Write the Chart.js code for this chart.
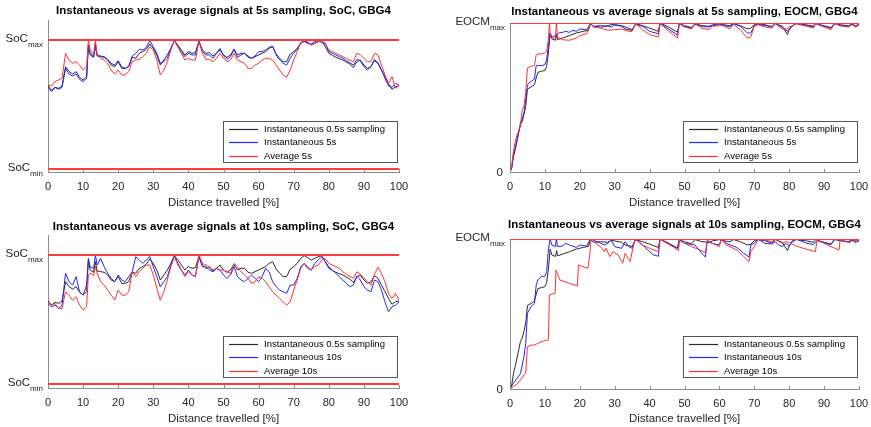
<!DOCTYPE html>
<html>
<head>
<meta charset="utf-8">
<script src="https://cdn.jsdelivr.net/npm/chart.js@4.4.1/dist/chart.umd.min.js"></script>
<style>
  body { margin: 0; background: #fff; width: 871px; height: 427px; overflow: hidden; position: relative; }
  .panel { position: absolute; }
</style>
</head>
<body>
<div class="panel" style="left:0;top:0"><canvas id="soc5" width="435" height="212"></canvas></div>
<div class="panel" style="left:435px;top:0"><canvas id="eocm5" width="446" height="212"></canvas></div>
<div class="panel" style="left:0;top:212px"><canvas id="soc10" width="435" height="215"></canvas></div>
<div class="panel" style="left:435px;top:212px"><canvas id="eocm10" width="446" height="215"></canvas></div>
<script>
// ── Data (distance travelled in %, signals in % of their window) ──
const SOC_X = [0,1,2,3,4,5,6,7,8,9,10,11,11.5,12,13,13.5,14,15,16,17,18,19,20,21,22,23,24,25,26,27,28,29,30,31,32,33,34,35,36,37,38,39,40,41,42,43,44,45,46,47,48,49,50,51,52,53,54,55,56,57,58,59,60,61,62,63,64,65,66,67,68,69,70,71,72,73,74,75,76,77,78,79,80,81,82,83,84,85,86,87,88,89,90,91,92,93,94,95,96,97,98,99,100];

// instantaneous 0.5s sampling (same signal in both SoC plots)
const SOC_BLACK = [64.3,61.2,63.3,62.5,64.3,79.3,75.5,73.6,75.5,71.1,69.0,71.6, 96.1,88.4,86.6,94.8,
  87.6,87.1,86.6,84.5,80.6,79.3,83.2,78.0,78.0,79.3, 86.6,85.8,89.7,91.0,92.8,96.9,93.5,88.4,80.6,84.5,
  88.4,93.5,99.5,96.1,92.2,88.4,91.0,89.7,90.2,98.7, 92.2,89.7,90.2,87.6,89.7,92.2,88.4,86.6,88.4,92.8,
  88.4,89.7,89.7,86.6,85.8,87.1,88.4,89.7,91.0,93.5, 94.8,89.1,85.8,83.2,83.2,89.1,91.0,93.5,97.4,99.5,
  97.9,96.1,97.4,98.7,99.5,94.8,89.7,88.1,86.6,85.5, 84.5,82.9,81.4,78.6,83.2,84.5,80.6,78.0,79.3,84.0,
  81.9,76.7,71.6,66.4,61.8,63.8,64.3];
const SOC5_BLUE = [63.3,60.0,63.3,61.8,63.3,78.0,73.6,72.1,73.6,69.5,67.7,70.3, 94.8,89.7,87.1,97.4,
  88.4,87.6,87.1,85.0,81.9,80.6,84.0,79.3,78.0,79.8, 87.6,89.7,92.8,92.2,94.3,99.5,94.8,89.7,81.9,83.2,
  85.8,93.5,99.5,94.8,91.0,87.1,89.7,88.4,88.4,99.5, 91.0,88.4,88.4,85.8,89.7,93.5,87.6,85.0,87.1,92.8,
  86.6,88.4,89.7,87.6,85.8,87.6,91.0,91.0,92.2,94.3, 95.3,88.4,84.5,81.9,80.6,85.8,89.7,92.8,97.9,98.7,
  97.4,96.9,98.7,99.5,97.9,97.4,91.0,89.7,88.4,87.1, 85.8,84.0,82.4,80.6,85.0,84.0,79.3,76.7,79.3,85.0,
  82.4,76.7,70.3,64.3,63.3,66.4,65.1];
const SOC5_RED = [65.1,64.3,67.7,69.0,70.3,89.7,84.5,81.9,83.2,80.6,76.7,79.3, 100,92.2,88.4,100,
  88.4,85.8,84.5,81.9,76.7,73.6,76.7,72.9,72.9,75.5, 83.2,84.5,85.0,87.1,89.7,94.8,92.2,84.5,72.9,76.7,
  83.2,92.2,100,94.8,89.7,84.5,85.8,84.5,84.5,98.7, 89.7,85.0,85.0,83.2,85.8,89.7,85.8,83.2,84.5,89.7,
  84.5,83.2,81.9,78.0,78.0,80.6,81.9,84.5,85.8,85.8, 84.5,80.6,76.7,72.9,71.1,76.7,84.5,91.0,97.9,100,
  98.7,96.1,97.4,98.7,99.5,97.4,92.2,91.0,89.7,88.4, 87.1,85.8,84.5,83.2,89.7,88.4,85.8,83.2,83.2,89.7,
  88.4,80.6,72.9,66.4,71.6,62.5,65.1];
const SOC10_BLUE = [62.4,59.8,61.1,58.5,61.1,85.8,79.3,76.7,83.2,71.5,68.9,76.7, 97.4,90.9,89.6,100,
  92.2,97.4,90.9,85.8,81.9,79.3,84.5,80.6,79.3,83.2, 87.0,98.7,96.1,93.5,96.1,98.7,90.9,83.2,75.4,79.3,
  83.2,92.2,99.2,93.5,88.3,84.5,88.3,84.5,83.2,98.7, 90.9,90.9,88.3,87.0,89.6,88.3,84.5,81.9,84.5,90.9,
  83.2,80.6,79.3,81.9,84.5,81.9,79.3,83.2,89.6,87.0, 79.3,75.4,72.8,71.5,70.2,76.7,76.7,81.9,90.9,93.5,
  89.6,88.3,93.5,96.1,98.7,94.8,90.9,88.3,85.8,83.2, 80.6,78.0,75.4,76.7,83.7,80.6,75.4,72.8,71.5,80.6,
  79.3,72.8,63.7,56.0,59.8,61.1,63.7];
const SOC10_RED = [65.0,61.1,62.4,58.5,58.5,71.5,68.9,65.0,67.6,61.1,57.3,59.8, 84.5,86.0,84.0,91.0,
  86.0,79.3,76.7,72.8,68.9,65.0,72.8,68.9,68.9,71.5, 87.0,83.2,87.0,89.6,92.2,92.2,84.5,74.1,65.0,71.5,
  80.6,90.9,98.7,92.2,88.3,83.2,87.0,84.5,83.2,100, 93.5,92.2,90.9,88.3,89.6,88.3,88.3,87.0,85.8,93.5,
  90.9,87.0,84.5,81.9,78.0,79.3,83.2,81.9,79.3,75.4, 71.5,68.9,66.3,63.7,61.1,63.7,72.8,80.6,89.6,93.5,
  90.9,88.3,90.9,92.2,96.1,97.4,93.5,92.2,90.9,89.6, 87.0,85.0,83.5,82.0,87.0,85.0,82.0,79.5,76.5,85.0,
  90.5,85.8,79.3,70.2,66.3,70.2,65.0];

// EOCM: each series keeps its own distance points (sawtooth jumps)
const EOCM_BLACK_X = [0,0.5,1,1.5,2,2.5,3,3.5,4,4.5,5,6,7,7.5,8,9,10,10.5,11,11.5,12,13,13.4,13.6,15,17,19,21,22.5,23,
  24,26,28,29,30,32,33,35,36,38,40,42.5,43,45,48,48.5,50,52,53,55,57,58,60,61,63,64,66,68,69,70,
  71,73,75,76,78,79.5,80,81,82,85,87,87.5,90,92,93,95,97,98,99,100];
const EOCM_BLACK = [0,2.7,10.5,15.0,20.6,26.2,31.8,34.0,38.5,44.1,55.7,57.0,58.6,63.1,66.9,67.6,68.2,70.9,79.9,93.3,
  89.3,88.4,92.2,88.8,89.9,91.5,93.3,94.4,95.1,99.6, 97.8,98.2,97.8,99.1,98.7,97.8,96.0,95.1,99.6,98.2,
  96.6,94.4,100,97.8,93.9,99.6,98.2,96.9,99.6,98.2, 97.8,98.7,99.6,98.9,98.2,99.6,98.2,96.0,96.6,98.9,
  99.6,98.9,97.3,99.6,97.8,92.2,95.5,98.2,99.6,98.7, 97.8,99.6,97.8,96.6,99.6,98.7,98.2,99.1,98.2,98.9];

const EOCM5_BLUE_X = [0,0.5,1,1.5,2,2.5,3,3.5,4,4.5,5,6,7,7.5,8,9,10,10.5,11,11.5,12,13,14,15,16,17,18,19,20,22,
  23,24,25,26,28,29,30,32,34,35,36,38,40,42.5,43,45,48,48.5,50,52,53,55,57,58,60,61,63,64,66,68,
  69,70,71,73,75,76,78,79.5,80,81,82,85,87,87.5,90,92,93,95,97,98,99,100];
const EOCM5_BLUE = [0,2.7,12.8,16.1,21.7,27.3,32.9,35.6,39.6,48.5,58.6,60.8,62.4,71.4,71.4,71.4,72.0,75.4,84.3,93.3,
  90.6,91.5,93.3,93.7,94.4,93.7,95.1,94.4,96.0,95.5, 99.6,97.3,97.8,97.1,98.2,97.3,98.9,98.2,96.6,95.5,
  99.1,97.8,94.4,92.8,99.6,96.6,91.9,99.6,97.8,96.6, 99.1,97.8,97.3,98.2,98.9,98.7,97.3,99.6,97.8,93.3,
  93.3,98.2,99.1,98.2,97.8,99.6,97.3,94.4,96.0,98.2, 99.6,98.2,97.3,99.6,98.2,96.9,99.6,98.2,97.8,99.6,97.8,99.1];

const EOCM5_RED_X = [0,0.5,1,1.5,2,2.5,3,3.5,4,4.5,5,6,7,7.5,8,9,10,10.5,11,11.3,11.6,12,13,13.3,13.6,15,17,19,20,22,
  23,24,26,28,30,32,34,35,36,38,40,42.5,43,45,48,48.5,50,52,53,55,57,58,60,61,63,64,66,68,69,70,
  71,73,75,76,78,79.5,80,81,82,85,87,87.5,90,92,93,95,97,98,99,100];
const EOCM5_RED = [0,4.9,13.9,20.6,25.1,27.3,31.8,41.8,44.1,53.0,69.8,70.9,71.4,78.7,79.2,79.2,79.9,81.0,88.8,100,
  90.6,89.9,89.9,100,90.6,88.8,88.4,89.9,91.5,92.8, 99.6,97.3,96.6,95.1,95.5,96.0,94.4,94.4,99.6,95.5,
  92.2,90.6,99.6,95.5,89.9,99.6,97.3,96.0,99.6,96.6, 95.5,97.8,98.2,98.2,96.0,98.9,95.5,89.9,90.6,97.8,
  98.9,97.3,96.6,99.6,96.0,96.0,97.3,98.2,99.6,97.8, 96.6,99.6,97.3,95.5,99.6,97.8,97.3,98.9,97.3,98.7];

const EOCM10_BLUE_X = [0,1,2,3,4,4.5,5,6,7,7.5,8,9,10,10.5,11,11.5,12,13,13.3,13.6,15,16,17,19,20,22,23,25,27,28,
  29,30,32,33,34,35,36,38,40,41,42.5,43,45,47,48,48.5,50,53,55,56,56.5,58,60,60.5,62,65,67,68.5,69,70,
  71,73,75,76,77,78,79,80,81,82,85,87,88,90,92,93,95,97,98,99,100];
const EOCM10_BLUE = [0,4,7,10.4,21.6,30.4,50.4,54.9,57.1,69.3,72.7,75.1,75.1,78.2,92.7,100,96.0,94.9,100,94.9,
  95.3,97.1,96.0,94.4,96.0,95.3,100,98.2,96.0,97.1, 99.3,94.9,93.8,98.2,94.9,93.8,100,96.0,91.6,89.5,
  88.5,100,97.1,94.9,93.8,99.3,97.1,96.0,90.4,88.0, 98.2,97.1,96.0,100,97.1,94.4,90.4,88.0,96.0,97.1,
  100,97.1,96.7,98.2,96.0,94.9,97.1,95.3,99.3,100, 97.1,96.4,98.9,97.6,96.2,100,98.9,98.2,99.8,97.6,99.3];

const EOCM10_RED_X = [0,1,2,3,4,4.5,5,6,7,8,9,10,11,11.3,12.9,13.2,14.3,17,19.3,19.6,22.3,22.8,23.2,24,25,26,27,27.5,28.6,29.5,
  31,32.3,33,34.4,35.8,38,40,42.5,43,45,47,48.3,48.6,50,52,54,56,56.5,58,60,60.5,62,65,67,68.5,69,70,71,72,75,
  76,78,79,80,82,85,87.5,88,90,92,94.3,94.6,96,97.5,98,100];
const EOCM10_RED = [0,1.6,3.3,6.0,9.3,10.4,28.2,29.3,29.3,30.4,31.6,32.2,32.7,62.7,63.8,79.3,72.7,70.4,68.7,82.7,
  80.4,88.2,99.3,100,96.0,94.9,91.6,93.8,88.2,91.6, 89.3,83.8,90.4,84.9,100,96.0,93.8,91.6,100,97.1,
  94.4,92.2,100,97.1,94.9,93.1,90.9,99.3,97.1,94.9, 99.8,96.0,92.7,88.2,84.9,91.6,94.9,99.3,100,98.2,
  99.8,97.1,98.2,97.6,95.3,93.1,91.6,99.3,97.1,94.9, 92.7,99.8,98.2,97.6,99.8,98.2];

// limits and y tick labels
const SOC_LIMITS = [0, 100];
const SOC_TICK_LABELS = [['SoC', 'min'], ['SoC', 'max']];
const EOCM_LIMITS = [100];
const EOCM_TICKS = [0, 100];
const EOCM_TICK_LABELS = [['0', ''], ['EOCM', 'max']];
const X_TITLE = 'Distance travelled [%]';

// ── Styling ───────────────────────────────────────────────────
const FONT = '"Liberation Sans", Arial, Helvetica, sans-serif';
const C_BLACK = '#2a2a2a';
const C_BLUE  = '#2424ff';
const C_RED   = '#ff3030';
const C_LIMIT = '#ff3a3a';
const C_AXIS  = '#8c8c8c';

Chart.defaults.font.family = FONT;
Chart.defaults.color = '#262626';

const pts = (xs, ys) => xs.map((x, i) => ({ x, y: ys[i] }));

// MATLAB-ish decorations: inward ticks, subscript y labels, title, boxed legend
const matlabLook = {
    id: 'matlabLook',
    afterDraw(chart, args, o) {
        const { ctx, chartArea: ca, scales: { x, y } } = chart;
        ctx.save();

        ctx.strokeStyle = C_AXIS; ctx.lineWidth = 1;
        x.ticks.forEach(t => {
            const px = Math.round(x.getPixelForValue(t.value)) + 0.5;
            ctx.beginPath(); ctx.moveTo(px, ca.bottom); ctx.lineTo(px, ca.bottom - 3); ctx.stroke();
        });

        ctx.textBaseline = 'middle'; ctx.textAlign = 'left'; ctx.fillStyle = '#262626';
        o.yTicks.forEach((v, i) => {
            const py = y.getPixelForValue(v);
            const [main, sub] = o.yLabels[i];
            ctx.font = '11.5px ' + FONT;
            const wMain = ctx.measureText(main).width;
            ctx.font = '8px ' + FONT;
            const wSub = sub ? ctx.measureText(sub).width : 0;
            const right = ca.left - (sub ? 5 : 7);
            ctx.font = '11.5px ' + FONT;
            ctx.fillText(main, right - wSub - wMain, py - (sub ? 1 : -1));
            if (sub) { ctx.font = '8px ' + FONT; ctx.fillText(sub, right - wSub, py + 5); }
        });

        ctx.font = 'bold 11.5px ' + FONT; ctx.textAlign = 'center'; ctx.fillStyle = '#000';
        ctx.fillText(o.title, (ca.left + ca.right) / 2, o.titleY);

        const w = 175, h = 42;
        const bx = Math.round(ca.right - 1 - w), by = Math.round(ca.bottom - o.legendGap - h);
        ctx.fillStyle = '#fff'; ctx.fillRect(bx, by, w, h);
        ctx.strokeStyle = '#555'; ctx.lineWidth = 1; ctx.strokeRect(bx + 0.5, by + 0.5, w - 1, h - 1);
        ctx.font = '9.5px ' + FONT; ctx.textAlign = 'left'; ctx.textBaseline = 'middle';
        o.legend.forEach((e, i) => {
            const ly = Math.round(by + 7.5 + i * 13.6);
            ctx.strokeStyle = e.color; ctx.lineWidth = 1.2;
            ctx.beginPath(); ctx.moveTo(bx + 6, ly + 0.5); ctx.lineTo(bx + 35, ly + 0.5); ctx.stroke();
            ctx.fillStyle = '#000'; ctx.fillText(e.label, bx + 41, ly + 0.5);
        });
        ctx.restore();
    }
};

function makePanel(p) {
    const series = p.series.map((s, i) => ({
        label: s.label, data: pts(s.xs, s.ys), borderColor: s.color,
        borderWidth: 1, pointRadius: 0, tension: 0, order: 3 - i,
    }));
    const limits = p.limits.map(v => ({
        label: '', data: [{ x: 0, y: v }, { x: 100, y: v }],
        borderColor: C_LIMIT, borderWidth: 2, pointRadius: 0, order: 0,
    }));
    return new Chart(document.getElementById(p.id), {
        type: 'line',
        data: { datasets: [...series, ...limits] },
        options: {
            responsive: false, animation: false, events: [],
            layout: { padding: { left: 0, right: p.padRight, top: p.padTop, bottom: 0 } },
            plugins: {
                legend: { display: false }, tooltip: { enabled: false },
                matlabLook: {
                    title: p.title, titleY: p.titleY, yTicks: p.yTicks, yLabels: p.yLabels, legendGap: p.legendGap,
                    legend: p.series.map(s => ({ label: s.label, color: s.color })),
                },
            },
            scales: {
                x: {
                    type: 'linear', min: 0, max: 100,
                    ticks: { stepSize: 10, font: { size: 11 }, padding: 8, maxRotation: 0, color: '#262626' },
                    grid: { display: false, drawTicks: false },
                    border: { color: C_AXIS },
                    title: { display: true, text: X_TITLE, font: { size: 11.5 }, color: '#262626', padding: { top: 0, bottom: p.xTitlePad } },
                    afterFit: s => { s.height = p.xAxisHeight; },
                },
                y: {
                    type: 'linear', min: p.yMin, max: p.yMax,
                    ticks: { display: false },
                    grid: { display: false, drawTicks: false },
                    border: { color: C_AXIS },
                    afterFit: s => { s.width = p.yAxisWidth; },
                },
            },
        },
        plugins: [matlabLook],
    });
}

makePanel({
    id: 'soc5', title: 'Instantaneous vs average signals at 5s sampling, SoC, GBG4',
    padTop: 20, padRight: 36, yAxisWidth: 48, xAxisHeight: 40, xTitlePad: 2, titleY: 11, legendGap: 9,
    yMin: -2.3, yMax: 115.5, yTicks: SOC_LIMITS, yLabels: SOC_TICK_LABELS, limits: SOC_LIMITS,
    series: [
        { label: 'Instantaneous 0.5s sampling', color: C_BLACK, xs: SOC_X, ys: SOC_BLACK },
        { label: 'Instantaneous 5s', color: C_BLUE, xs: SOC_X, ys: SOC5_BLUE },
        { label: 'Average 5s', color: C_RED, xs: SOC_X, ys: SOC5_RED },
    ],
});

makePanel({
    id: 'eocm5', title: 'Instantaneous vs average signals at 5s sampling, EOCM, GBG4',
    padTop: 23, padRight: 22, yAxisWidth: 75, xAxisHeight: 40, xTitlePad: 2, titleY: 12, legendGap: 9,
    yMin: 0, yMax: 100, yTicks: EOCM_TICKS, yLabels: EOCM_TICK_LABELS, limits: EOCM_LIMITS,
    series: [
        { label: 'Instantaneous 0.5s sampling', color: C_BLACK, xs: EOCM_BLACK_X, ys: EOCM_BLACK },
        { label: 'Instantaneous 5s', color: C_BLUE, xs: EOCM5_BLUE_X, ys: EOCM5_BLUE },
        { label: 'Average 5s', color: C_RED, xs: EOCM5_RED_X, ys: EOCM5_RED },
    ],
});

makePanel({
    id: 'soc10', title: 'Instantaneous vs average signals at 10s sampling, SoC, GBG4',
    padTop: 23, padRight: 36, yAxisWidth: 48, xAxisHeight: 39, xTitlePad: 1, titleY: 14.5, legendGap: 10,
    yMin: -3.1, yMax: 115.5, yTicks: SOC_LIMITS, yLabels: SOC_TICK_LABELS, limits: SOC_LIMITS,
    series: [
        { label: 'Instantaneous 0.5s sampling', color: C_BLACK, xs: SOC_X, ys: SOC_BLACK },
        { label: 'Instantaneous 10s', color: C_BLUE, xs: SOC_X, ys: SOC10_BLUE },
        { label: 'Average 10s', color: C_RED, xs: SOC_X, ys: SOC10_RED },
    ],
});

makePanel({
    id: 'eocm10', title: 'Instantaneous vs average signals at 10s sampling, EOCM, GBG4',
    padTop: 27, padRight: 22, yAxisWidth: 75, xAxisHeight: 38, xTitlePad: 1, titleY: 13, legendGap: 11,
    yMin: 0, yMax: 100, yTicks: EOCM_TICKS, yLabels: EOCM_TICK_LABELS, limits: EOCM_LIMITS,
    series: [
        { label: 'Instantaneous 0.5s sampling', color: C_BLACK, xs: EOCM_BLACK_X, ys: EOCM_BLACK },
        { label: 'Instantaneous 10s', color: C_BLUE, xs: EOCM10_BLUE_X, ys: EOCM10_BLUE },
        { label: 'Average 10s', color: C_RED, xs: EOCM10_RED_X, ys: EOCM10_RED },
    ],
});
</script>
</body>
</html>
